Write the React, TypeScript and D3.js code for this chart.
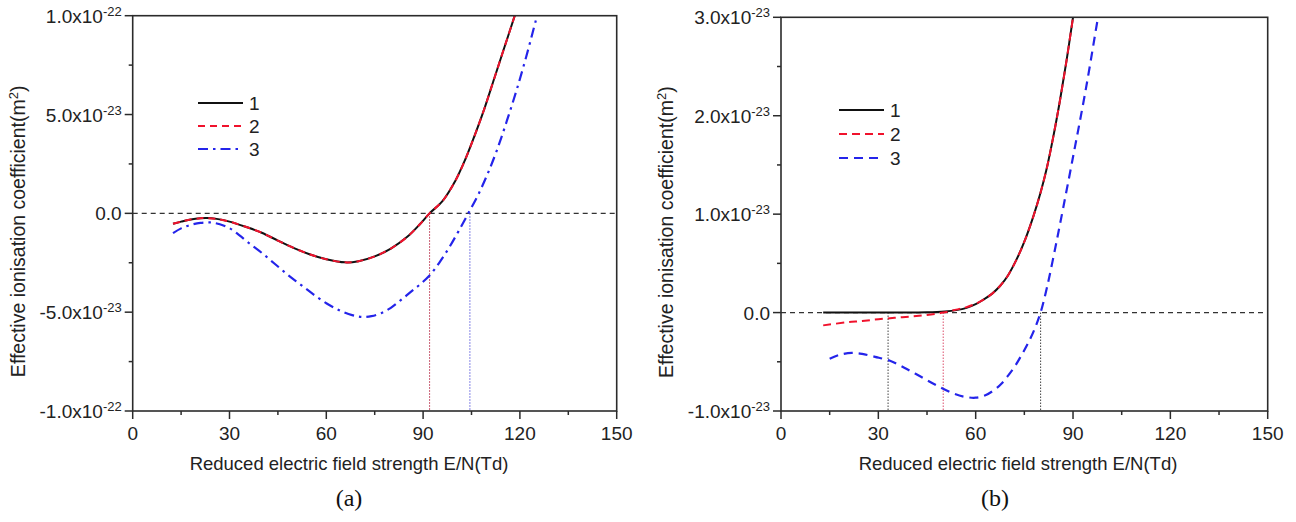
import React from 'react';
import * as d3 from 'd3';

// ---------- shared axis data ----------
const xTicks = [0, 30, 60, 90, 120, 150];
const xMinorTicks = [15, 45, 75, 105, 135];
const xTitle = 'Reduced electric field strength E/N(Td)';
const yTitleMain = 'Effective ionisation coefficient(m';
const yTitleSup = '2';
const legendLabels = ['1', '2', '3'];

// ---------- panel (a): values in units of 1e-23 m^2 ----------
const aYTicks = [-10, -5, 0, 5, 10];
const aYMinorTicks = [-7.5, -2.5, 2.5, 7.5];
const aYTickMant = ['-1.0x10', '-5.0x10', '0.0', '5.0x10', '1.0x10'];
const aYTickExp = ['-22', '-23', '', '-23', '-22'];

const aCurve1: [number, number][] = [
  [12.5, -0.53], [15, -0.42], [18, -0.31], [21, -0.25], [23, -0.24], [26, -0.28],
  [30, -0.42], [35, -0.68], [40, -0.98], [45, -1.38], [50, -1.76], [55, -2.08],
  [60, -2.32], [65.8, -2.48], [70, -2.42], [75, -2.18], [80, -1.78], [85, -1.2],
  [89, -0.55], [92, 0], [96, 0.62], [100, 1.65], [103, 2.7], [106, 3.95],
  [109, 5.3], [112, 6.8], [115, 8.3], [119, 10.3],
];
const aCurve2: [number, number][] = [
  [12.5, -0.53], [15, -0.42], [18, -0.31], [21, -0.25], [23, -0.24], [26, -0.28],
  [30, -0.42], [35, -0.68], [40, -0.98], [45, -1.38], [50, -1.76], [55, -2.08],
  [60, -2.32], [65.8, -2.48], [70, -2.42], [75, -2.18], [80, -1.78], [85, -1.2],
  [89, -0.55], [92, 0], [96, 0.62], [100, 1.65], [103, 2.7], [106, 3.95],
  [109, 5.3], [112, 6.8], [115, 8.3], [119, 10.3],
];
const aCurve3: [number, number][] = [
  [12.5, -1.0], [15, -0.76], [18, -0.58], [21, -0.48], [24, -0.46], [27, -0.55],
  [30, -0.75], [33, -1.1], [36, -1.5], [40, -2.0], [44, -2.55], [48, -3.1],
  [52, -3.6], [56, -4.1], [60, -4.55], [64, -4.9], [68, -5.15], [71, -5.24],
  [74, -5.2], [77, -5.05], [80, -4.78], [83, -4.4], [86, -4.0], [89, -3.6],
  [92, -3.15], [95, -2.5], [98, -1.75], [101, -0.9], [104, 0], [107, 0.92],
  [110, 2.0], [113, 3.25], [116, 4.7], [119, 6.25], [122, 7.95], [125, 9.8], [126, 10.4],
];
const aMarkers = [92, 104.5];

// ---------- panel (b): values in units of 1e-23 m^2 ----------
const bYTicks = [-1, 0, 1, 2, 3];
const bYMinorTicks = [-0.5, 0.5, 1.5, 2.5];
const bYTickMant = ['-1.0x10', '0.0', '1.0x10', '2.0x10', '3.0x10'];
const bYTickExp = ['-23', '', '-23', '-23', '-23'];

const bCurve1: [number, number][] = [
  [13, 0], [20, 0], [30, 0], [36.7, 0], [45, 0.003], [50.5, 0.012], [54, 0.025],
  [57.2, 0.048], [60, 0.085], [62.3, 0.13], [65, 0.19], [67.5, 0.27], [70, 0.38],
  [72.6, 0.54], [75, 0.72], [77.8, 0.98], [80, 1.22], [82, 1.48], [84, 1.8],
  [86, 2.16], [88, 2.56], [90, 3.0],
];
const bCurve2: [number, number][] = [
  [13, -0.13], [20, -0.1], [25, -0.085], [30, -0.068], [35, -0.053], [40, -0.04],
  [45, -0.025], [50, 0], [54, 0.03], [57.2, 0.055], [60, 0.09], [62.3, 0.13],
  [65, 0.19], [67.5, 0.27], [70, 0.38], [72.6, 0.54], [75, 0.72], [77.8, 0.98],
  [80, 1.22], [82, 1.48], [84, 1.8], [86, 2.16], [88, 2.56], [90, 3.0],
];
const bCurve3: [number, number][] = [
  [15, -0.47], [18, -0.43], [21.8, -0.41], [25, -0.42], [29, -0.45], [33.6, -0.49],
  [38, -0.56], [43, -0.65], [48, -0.74], [53, -0.82], [56.5, -0.855], [60, -0.865],
  [63, -0.84], [66, -0.78], [68, -0.72], [70, -0.64], [72, -0.55], [74, -0.44],
  [76, -0.32], [78, -0.18], [80, 0], [82, 0.26], [84, 0.57], [86, 0.9],
  [90, 1.58], [94, 2.28], [97.7, 3.0], [98.5, 3.15],
];
const bMarkers = [33, 50, 80];

// ---------- styles ----------
const FONT = '"Liberation Sans", Arial, sans-serif';
const AXIS = '#2b2b2b';
const BLACK = '#111111';
const RED = '#f0122c';
const BLUE = '#2424ea';

type PanelProps = {
  id: string;
  left: number;
  right: number;
  top: number;
  bottom: number;
  yDomain: [number, number];
  yTicks: number[];
  yMinor: number[];
  yMant: string[];
  yExp: string[];
  curves: { data: [number, number][]; color: string; dash: string; width: number }[];
  markers: { x: number; color: string }[];
  legendX: number;
  legendY: number;
  legendGap: number;
  titleX: number;
  caption: string;
  captionX: number;
};

function Panel(p: PanelProps) {
  const x = d3.scaleLinear().domain([0, 150]).range([p.left, p.right]);
  const y = d3.scaleLinear().domain(p.yDomain).range([p.bottom, p.top]);
  const line = d3
    .line<[number, number]>()
    .x((d) => x(d[0]))
    .y((d) => y(d[1]))
    .curve(d3.curveCatmullRom.alpha(0.5));
  const midY = (p.top + p.bottom) / 2 + 18;
  return (
    <g>
      <defs>
        <clipPath id={`clip-${p.id}`}>
          <rect x={p.left} y={p.top} width={p.right - p.left} height={p.bottom - p.top} />
        </clipPath>
      </defs>
      {/* zero line */}
      <line x1={p.left} x2={p.right} y1={y(0)} y2={y(0)} stroke="#333" strokeWidth={1.2} strokeDasharray="5,4" />
      {/* markers */}
      {p.markers.map((m, i) => (
        <line key={i} x1={x(m.x)} x2={x(m.x)} y1={y(0)} y2={p.bottom} stroke={m.color} strokeWidth={1.1} strokeDasharray="1.5,1.5" />
      ))}
      {/* curves */}
      <g clipPath={`url(#clip-${p.id})`}>
        {p.curves.map((c, i) => (
          <path key={i} d={line(c.data) || ''} fill="none" stroke={c.color} strokeWidth={c.width} strokeDasharray={c.dash} />
        ))}
      </g>
      {/* frame */}
      <rect x={p.left} y={p.top} width={p.right - p.left} height={p.bottom - p.top} fill="none" stroke={AXIS} strokeWidth={1.6} />
      {/* x ticks */}
      {xTicks.map((t) => (
        <g key={t}>
          <line x1={x(t)} x2={x(t)} y1={p.bottom} y2={p.bottom + 8} stroke={AXIS} strokeWidth={1.5} />
          <text x={x(t)} y={p.bottom + 29} textAnchor="middle" fontFamily={FONT} fontSize={19} fill="#222">
            {t}
          </text>
        </g>
      ))}
      {xMinorTicks.map((t) => (
        <line key={t} x1={x(t)} x2={x(t)} y1={p.bottom} y2={p.bottom + 4} stroke={AXIS} strokeWidth={1.5} />
      ))}
      {/* y ticks */}
      {p.yTicks.map((t, i) => (
        <g key={t}>
          <line x1={p.left - 8} x2={p.left} y1={y(t)} y2={y(t)} stroke={AXIS} strokeWidth={1.5} />
          <text x={p.left - 11} y={y(t) + 7} textAnchor="end" fontFamily={FONT} fontSize={19} fill="#222">
            {p.yMant[i]}
            {p.yExp[i] ? (
              <tspan fontSize={13} dy={-7}>
                {p.yExp[i]}
              </tspan>
            ) : null}
          </text>
        </g>
      ))}
      {p.yMinor.map((t) => (
        <line key={t} x1={p.left - 4} x2={p.left} y1={y(t)} y2={y(t)} stroke={AXIS} strokeWidth={1.5} />
      ))}
      {/* legend */}
      {p.curves.map((c, i) => (
        <g key={i}>
          <line
            x1={p.legendX}
            x2={p.legendX + 45}
            y1={p.legendY + i * p.legendGap}
            y2={p.legendY + i * p.legendGap}
            stroke={c.color}
            strokeWidth={1.8}
            strokeDasharray={c.dash}
          />
          <text x={p.legendX + 51} y={p.legendY + i * p.legendGap + 7} fontFamily={FONT} fontSize={19} fill="#222">
            {legendLabels[i]}
          </text>
        </g>
      ))}
      {/* axis titles */}
      <text x={p.titleX} y={p.bottom + 59} textAnchor="middle" fontFamily={FONT} fontSize={18.5} fill="#222">
        {xTitle}
      </text>
      <text
        transform={`translate(${p.left - 108},${midY}) rotate(-90)`}
        textAnchor="middle"
        fontFamily={FONT}
        fontSize={19.5}
        fill="#222"
      >
        {yTitleMain}
        <tspan fontSize={13} dy={-7}>
          {yTitleSup}
        </tspan>
        <tspan dy={7}>)</tspan>
      </text>
      <text x={p.captionX} y={p.bottom + 95} textAnchor="middle" fontFamily='"Liberation Serif", "Times New Roman", serif' fontSize={24} fill="#111">
        {p.caption}
      </text>
    </g>
  );
}

export default function App() {
  return (
    <svg width={1296} height={522} style={{ position: 'absolute', left: 0, top: 0, background: '#fff' }}>
      <rect x={0} y={0} width={1296} height={522} fill="#fff" />
      <Panel
        id="a"
        left={132.7}
        right={616.7}
        top={15.7}
        bottom={411}
        yDomain={[-10, 10]}
        yTicks={aYTicks}
        yMinor={aYMinorTicks}
        yMant={aYTickMant}
        yExp={aYTickExp}
        curves={[
          { data: aCurve1, color: BLACK, dash: '', width: 2 },
          { data: aCurve2, color: RED, dash: '7,5', width: 2 },
          { data: aCurve3, color: BLUE, dash: '10,5,2.5,5', width: 2.2 },
        ]}
        markers={[
          { x: aMarkers[0], color: '#c0405a' },
          { x: aMarkers[1], color: '#6a6ae0' },
        ]}
        legendX={198}
        legendY={103}
        legendGap={23}
        titleX={349}
        caption="(a)"
        captionX={349}
      />
      <Panel
        id="b"
        left={781}
        right={1267.7}
        top={17.3}
        bottom={411}
        yDomain={[-1, 3]}
        yTicks={bYTicks}
        yMinor={bYMinorTicks}
        yMant={bYTickMant}
        yExp={bYTickExp}
        curves={[
          { data: bCurve1, color: BLACK, dash: '', width: 2 },
          { data: bCurve2, color: RED, dash: '8,5', width: 2 },
          { data: bCurve3, color: BLUE, dash: '9,6', width: 2.2 },
        ]}
        markers={[
          { x: bMarkers[0], color: '#555' },
          { x: bMarkers[1], color: '#e0607a' },
          { x: bMarkers[2], color: '#555' },
        ]}
        legendX={839}
        legendY={110}
        legendGap={24}
        titleX={1018}
        caption="(b)"
        captionX={995}
      />
    </svg>
  );
}
